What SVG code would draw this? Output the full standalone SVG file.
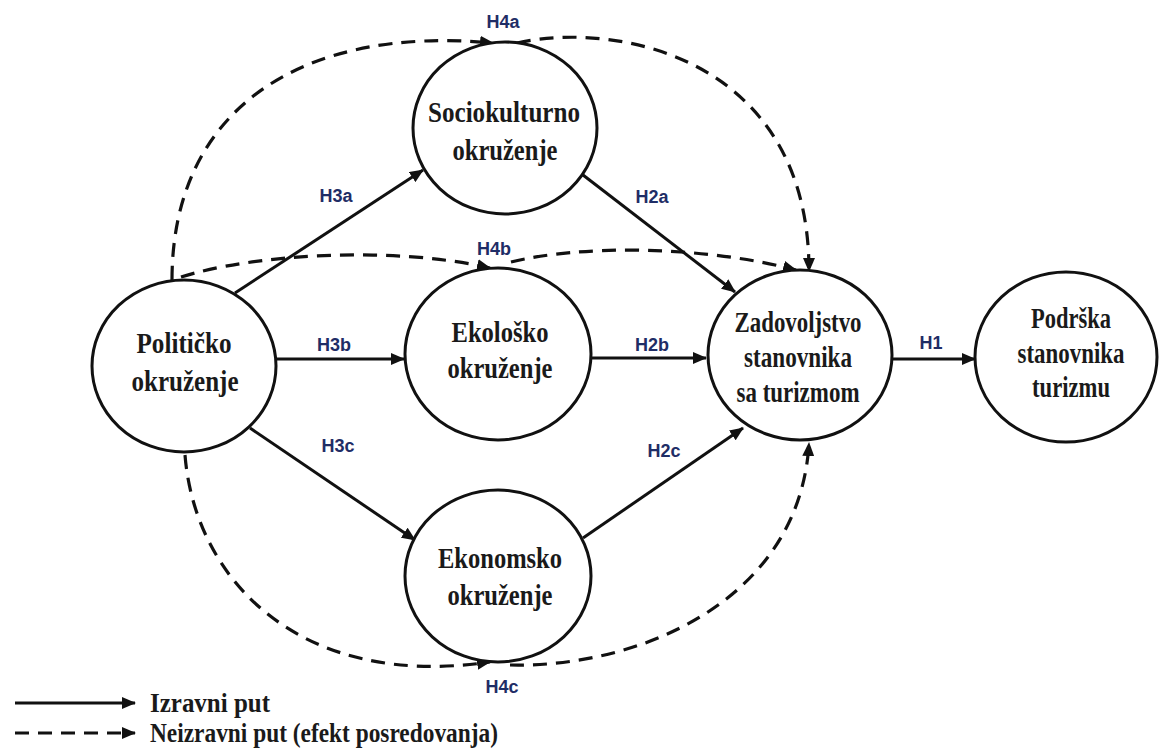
<svg xmlns="http://www.w3.org/2000/svg" width="1160" height="749" viewBox="0 0 1160 749">
<style>
.node{fill:#fff;stroke:#111;stroke-width:3}
.nt{font-family:"Liberation Serif","Times New Roman",serif;font-weight:bold;font-size:30px;fill:#1a1a1a;text-anchor:middle}
.lbl{font-family:"Liberation Sans",Arial,sans-serif;font-weight:bold;font-size:18px;fill:#1f2d66;text-anchor:middle}
.solid{fill:none;stroke:#111;stroke-width:3;marker-end:url(#ah)}
.dash{fill:none;stroke:#111;stroke-width:3.2;stroke-dasharray:14 9;marker-end:url(#ah)}
.leg{font-family:"Liberation Serif","Times New Roman",serif;font-weight:bold;font-size:27px;fill:#1a1a1a}
</style>
<defs>
<marker id="ah" markerUnits="userSpaceOnUse" markerWidth="14" markerHeight="12" refX="13" refY="6" orient="auto">
<path d="M0,0 L14,6 L0,12 z" fill="#111"/>
</marker>
</defs>
<rect width="1160" height="749" fill="#fff"/>
<g id="connectors">
<path class="solid" d="M235,293 L423,170"/>
<path class="solid" d="M277,359 L404,359"/>
<path class="solid" d="M250,428 L415,540"/>
<path class="solid" d="M583,175 L735,292"/>
<path class="solid" d="M592,358 L706,358"/>
<path class="solid" d="M583,538 L743,428"/>
<path class="solid" d="M892,359 L975,359"/>
<path class="dash" d="M172,280 C172,110 300,25 493,43"/>
<path class="dash" d="M517,43 C620,20 809,60 809,271"/>
<path class="dash" d="M181,277 C250,255 390,245 490,268"/>
<path class="dash" d="M511,262 C580,245 700,245 796,270"/>
<path class="dash" d="M185,455 C195,580 300,690 490,662"/>
<path class="dash" d="M510,665 C640,668 800,600 809,443"/>
</g>
<g id="labels">
<text class="lbl" x="336" y="202">H3a</text>
<text class="lbl" x="334" y="351">H3b</text>
<text class="lbl" x="338" y="452">H3c</text>
<text class="lbl" x="652" y="203">H2a</text>
<text class="lbl" x="652" y="351">H2b</text>
<text class="lbl" x="664" y="457">H2c</text>
<text class="lbl" x="931" y="349">H1</text>
<text class="lbl" x="503" y="28">H4a</text>
<text class="lbl" x="494" y="255">H4b</text>
<text class="lbl" x="502" y="693">H4c</text>
</g>
<g id="n-politicko">
<ellipse class="node" cx="184" cy="366" rx="92" ry="86"/>
<text class="nt" x="184" y="353" textLength="95" lengthAdjust="spacingAndGlyphs">Političko</text>
<text class="nt" x="185" y="391" textLength="107" lengthAdjust="spacingAndGlyphs">okruženje</text>
</g>
<g id="n-sociokulturno">
<ellipse class="node" cx="505" cy="128" rx="92" ry="86"/>
<text class="nt" x="504" y="122" textLength="152" lengthAdjust="spacingAndGlyphs">Sociokulturno</text>
<text class="nt" x="505" y="160" textLength="105" lengthAdjust="spacingAndGlyphs">okruženje</text>
</g>
<g id="n-ekolosko">
<ellipse class="node" cx="498" cy="354" rx="93" ry="86"/>
<text class="nt" x="500" y="342" textLength="97" lengthAdjust="spacingAndGlyphs">Ekološko</text>
<text class="nt" x="500" y="378" textLength="105" lengthAdjust="spacingAndGlyphs">okruženje</text>
</g>
<g id="n-ekonomsko">
<ellipse class="node" cx="498" cy="576" rx="93" ry="86"/>
<text class="nt" x="500" y="568" textLength="124" lengthAdjust="spacingAndGlyphs">Ekonomsko</text>
<text class="nt" x="500" y="605" textLength="105" lengthAdjust="spacingAndGlyphs">okruženje</text>
</g>
<g id="n-zadovoljstvo">
<ellipse class="node" cx="800" cy="355" rx="92" ry="85"/>
<text class="nt" x="798" y="332" textLength="127" lengthAdjust="spacingAndGlyphs">Zadovoljstvo</text>
<text class="nt" x="798" y="367" textLength="108" lengthAdjust="spacingAndGlyphs">stanovnika</text>
<text class="nt" x="798" y="402" textLength="123" lengthAdjust="spacingAndGlyphs">sa turizmom</text>
</g>
<g id="n-podrska">
<ellipse class="node" cx="1066" cy="357" rx="91" ry="85"/>
<text class="nt" x="1071" y="328" textLength="80" lengthAdjust="spacingAndGlyphs">Podrška</text>
<text class="nt" x="1071" y="363" textLength="107" lengthAdjust="spacingAndGlyphs">stanovnika</text>
<text class="nt" x="1071" y="397" textLength="78" lengthAdjust="spacingAndGlyphs">turizmu</text>
</g>
<g id="legend">
<path class="solid" d="M15,703 L135,703"/>
<path class="dash" d="M15,733 L135,733"/>
<text class="leg" x="150" y="712" textLength="120" lengthAdjust="spacingAndGlyphs">Izravni put</text>
<text class="leg" x="150" y="742" textLength="348" lengthAdjust="spacingAndGlyphs">Neizravni put (efekt posredovanja)</text>
</g>
</svg>
